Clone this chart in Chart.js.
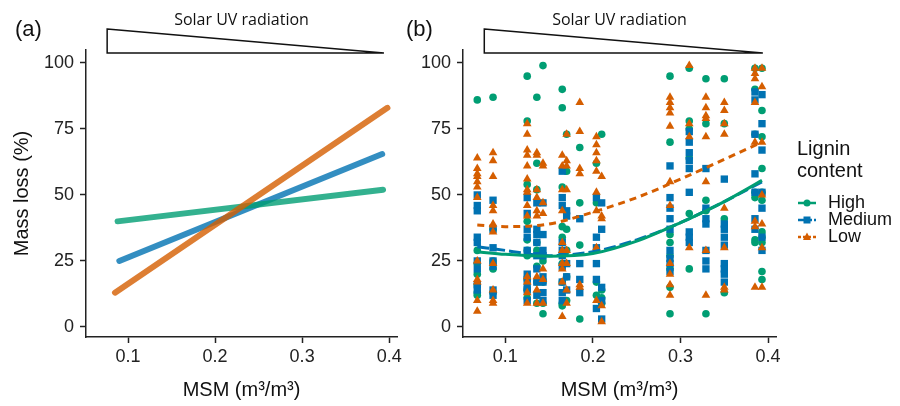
<!DOCTYPE html>
<html>
<head>
<meta charset="utf-8">
<script src="https://cdn.jsdelivr.net/npm/chart.js@4/dist/chart.umd.min.js"></script>
<style>
  html, body { margin: 0; padding: 0; background: #fff; }
  #wrap { position: relative; width: 900px; height: 406px; font-family: "Liberation Sans", Arial, sans-serif; color: #111; }
  canvas { position: absolute; left: 0; top: 0; }
  .tag { position: absolute; font-size: 22px; line-height: 22px; }
  #legend { position: absolute; left: 797px; top: 137px; }
  #legend .lt { font-size: 20px; line-height: 22px; }
  #keys { margin-top: 13px; }
  .key { display: flex; align-items: center; height: 17px; font-size: 18px; }
  .key svg { margin-right: 12px; margin-left: 1px; }
</style>
</head>
<body>
<div id="wrap">
  <canvas id="panelA" width="900" height="406"></canvas>
  <canvas id="panelB" width="900" height="406"></canvas>
  <div class="tag" style="left:15px;top:18px">(a)</div>
  <div class="tag" style="left:406px;top:18px">(b)</div>
  <div id="legend"><div class="lt">Lignin<br>content</div><div id="keys"></div></div>
</div>
<script>
// lignin levels + colours
const levels = ['High', 'Medium', 'Low'];
const colors = ['#009E73', '#0072B2', '#D55E00'];
const shapes = ['circle', 'rect', 'triangle'];

const xTicks = [0.1, 0.2, 0.3, 0.4];
const yTicks = [0, 25, 50, 75, 100];

// panel (a): fitted lines, [msm, mass loss] end points
const lineHigh = [[0.088, 40], [0.393, 52]];
const lineMedium = [[0.09, 25], [0.392, 65.5]];
const lineLow = [[0.085, 13], [0.398, 83]];

// panel (b): MSM of each plot and the mass loss values measured there
const msmLevels = [0.068, 0.086, 0.125, 0.136, 0.143, 0.165, 0.170, 0.185, 0.204, 0.210, 0.288, 0.310, 0.329, 0.350, 0.385, 0.393];

const lossHigh = [
  [86, 29, 24, 20, 16, 13, 12],
  [87, 37, 25, 22, 13],
  [95, 78, 54, 40, 33, 29, 27, 18, 14, 11],
  [87, 62, 52, 32, 29, 23, 17, 9],
  [99, 25, 17, 9, 5],
  [90, 83, 53, 38, 34, 24, 17, 9, 8],
  [73, 59, 37, 29, 19, 10],
  [68, 47, 31, 3],
  [62, 47, 17, 12],
  [73, 14, 11, 9],
  [95, 70, 35, 32, 27, 22, 15, 5],
  [98, 78, 75, 64, 43, 22],
  [94, 77, 48, 44, 5],
  [94, 77, 41, 13],
  [98, 90, 73, 51, 49, 33, 32],
  [98, 82, 72, 60, 51, 48, 36, 34, 32, 21, 18]
];
const lossMedium = [
  [50, 46, 44, 34, 32, 25, 22, 16, 14],
  [48, 37, 30, 25, 23, 14, 12],
  [49, 43, 37, 34, 29, 20, 18, 15, 14, 10],
  [47, 37, 35, 32, 27, 22, 17, 12],
  [47, 35, 29, 27, 19, 17, 13, 10],
  [59, 49, 46, 32, 29, 27, 23, 17, 13, 10],
  [44, 42, 24, 19, 14],
  [41, 24, 18, 13],
  [49, 34, 30, 24, 18, 7],
  [47, 37, 15, 10, 3],
  [61, 49, 45, 41, 37, 29, 26, 24, 21],
  [74, 70, 66, 63, 60, 51, 36, 34, 32],
  [60, 45, 41, 39, 29, 25, 22],
  [56, 39, 37, 34, 31, 24, 22, 20, 17],
  [89, 86, 73, 58, 51, 41, 37],
  [88, 77, 67, 51, 45, 34, 29]
];
const lossLow = [
  [64, 60, 58, 57, 55, 53, 49, 25, 18, 17, 10, 6],
  [66, 63, 57, 46, 44, 39, 36, 24, 14, 10, 9],
  [77, 73, 67, 65, 61, 56, 52, 51, 46, 42, 19, 17, 13, 9],
  [66, 65, 52, 49, 44, 42, 19, 14, 9],
  [62, 61, 47, 43, 22, 18, 9],
  [65, 61, 52, 44, 32, 29, 24, 22, 17, 4],
  [73, 63, 61, 52, 29, 24, 14, 9],
  [85, 74, 60, 58, 16, 15],
  [72, 69, 66, 63, 59, 51, 44, 30, 10],
  [57, 42, 41, 8, 2],
  [87, 85, 83, 81, 76, 55, 46, 24, 20, 16, 12],
  [99, 77, 72, 30],
  [87, 83, 80, 79, 72, 55, 29, 12],
  [85, 82, 77, 73, 45, 30, 15, 14],
  [98, 96, 94, 85, 70, 40, 38, 15],
  [98, 91, 70, 50, 39, 30, 15]
];

// panel (b): smoothed fits
const fitMsm = [0.068, 0.1, 0.15, 0.2, 0.25, 0.3, 0.35, 0.393];
const fitHigh = [28.5, 27.5, 26.8, 27.8, 32.5, 39.5, 47.5, 55.5];
const fitMedium = [30.4, 29, 27, 28.5, 33, 39.5, 47.5, 55];
const fitLow = [38.6, 38, 39, 43.5, 49, 56, 63.5, 70];

const uvStart = 0.076, uvEnd = 0.394;

const pts = (arr) => arr.map(p => ({ x: p[0], y: p[1] }));
const columns = (loss) => msmLevels.flatMap((m, i) => loss[i].map(v => ({ x: m, y: v })));
const fit = (vals) => fitMsm.map((m, i) => ({ x: m, y: vals[i] }));

const uvPlugin = {
  id: 'uv',
  afterDraw(chart) {
    const { ctx, chartArea } = chart;
    const x = chart.scales.x;
    const x0 = x.getPixelForValue(uvStart), x1 = x.getPixelForValue(uvEnd);
    const top = chartArea.top - 21, bot = chartArea.top + 3;
    ctx.save();
    ctx.beginPath();
    ctx.moveTo(x0, top);
    ctx.lineTo(x1, bot);
    ctx.lineTo(x0, bot);
    ctx.closePath();
    ctx.fillStyle = '#fff';
    ctx.fill();
    ctx.lineWidth = 1.5;
    ctx.strokeStyle = '#111';
    ctx.stroke();
    ctx.fillStyle = '#111';
    ctx.font = '16px "Open Sans"';
    ctx.textAlign = 'center';
    ctx.textBaseline = 'middle';
    ctx.fillText('Solar UV radiation', (chartArea.left + chartArea.right) / 2, chartArea.top - 30);
    ctx.restore();
  }
};

function axes(yWidth, yTitle) {
  const grid = { display: true, drawOnChartArea: false, drawTicks: true, tickLength: 6, tickWidth: 1.5, tickColor: '#222' };
  const border = { display: true, color: '#222', width: 1.5 };
  return {
    x: {
      type: 'linear', min: 0.0517, max: 0.409,
      afterBuildTicks: s => { s.ticks = xTicks.map(v => ({ value: v })); },
      afterFit: s => { s.height = 69; },
      ticks: { font: { size: 18, family: 'Liberation Sans' }, color: '#222', padding: 3, callback: v => v.toFixed(1) },
      grid, border,
      title: { display: true, text: 'MSM (m³/m³)', color: '#111', font: { size: 20, family: 'Liberation Sans' }, padding: { top: 0, bottom: 4 } }
    },
    y: {
      min: -3.8, max: 104.9,
      afterBuildTicks: s => { s.ticks = yTicks.map(v => ({ value: v })); },
      afterFit: s => { s.width = yWidth; },
      ticks: { font: { size: 18, family: 'Liberation Sans' }, color: '#222', padding: 6 },
      grid, border,
      title: { display: !!yTitle, text: yTitle, color: '#111', font: { size: 20, family: 'Liberation Sans' }, padding: { top: 10, bottom: 0 } }
    }
  };
}

const common = {
  responsive: false,
  animation: false,
  devicePixelRatio: 1,
  plugins: { legend: { display: false }, tooltip: { enabled: false } }
};

new Chart(document.getElementById('panelA').getContext('2d'), {
  type: 'scatter',
  data: {
    datasets: [
      { data: pts(lineLow), color: colors[2] },
      { data: pts(lineHigh), color: colors[0] },
      { data: pts(lineMedium), color: colors[1] }
    ].map(d => ({
      data: d.data, showLine: true, pointRadius: 0,
      borderColor: d.color + 'CC', borderWidth: 6, borderCapStyle: 'round'
    }))
  },
  options: Object.assign({}, common, {
    layout: { padding: { left: 0, right: 503, top: 50, bottom: 0 } },
    scales: axes(86, 'Mass loss (%)')
  }),
  plugins: [uvPlugin]
});

new Chart(document.getElementById('panelB').getContext('2d'), {
  type: 'scatter',
  data: {
    datasets: [
      { data: fit(fitHigh), showLine: true, pointRadius: 0, borderColor: colors[0], borderWidth: 3, cubicInterpolationMode: 'monotone' },
      { data: fit(fitMedium), showLine: true, pointRadius: 0, borderColor: colors[1], borderWidth: 3, borderDash: [12, 4], cubicInterpolationMode: 'monotone' },
      { data: fit(fitLow), showLine: true, pointRadius: 0, borderColor: colors[2], borderWidth: 3, borderDash: [7, 5], cubicInterpolationMode: 'monotone' },
      { data: columns(lossLow), pointStyle: shapes[2], pointRadius: 5, backgroundColor: colors[2], pointBorderWidth: 0 },
      { data: columns(lossMedium), pointStyle: shapes[1], pointRadius: 5.2, backgroundColor: colors[1], pointBorderWidth: 0 },
      { data: columns(lossHigh), pointStyle: shapes[0], pointRadius: 3.8, backgroundColor: colors[0], pointBorderWidth: 0 }
    ]
  },
  options: Object.assign({}, common, {
    layout: { padding: { left: 400, right: 124, top: 50, bottom: 0 } },
    scales: axes(63, '')
  }),
  plugins: [uvPlugin]
});

// legend keys: line + marker like the ggplot key
const dashes = ['', '6 2', '3 2'];
const marks = [
  c => `<circle cx="9" cy="6" r="3.5" fill="${c}"/>`,
  c => `<rect x="5.5" y="2.5" width="7" height="7" fill="${c}"/>`,
  c => `<polygon points="9,1.5 13,9 5,9" fill="${c}"/>`
];
document.getElementById('keys').innerHTML = levels.map((l, i) =>
  `<div class="key"><svg width="18" height="12"><line x1="0" y1="6" x2="18" y2="6" stroke="${colors[i]}" stroke-width="2.5" stroke-dasharray="${dashes[i]}"/>${marks[i](colors[i])}</svg>${l}</div>`
).join('');
</script>
</body>
</html>
